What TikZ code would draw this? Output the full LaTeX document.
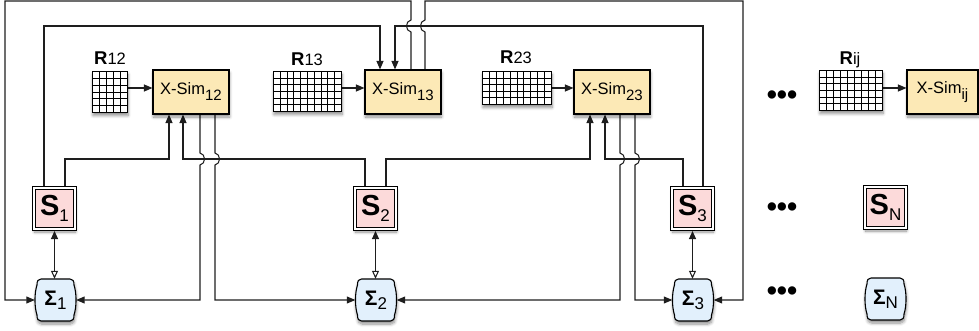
\documentclass[tikz,border=0pt]{standalone}
\usepackage{fontspec}
\setmainfont{Liberation Sans}
\usetikzlibrary{arrows.meta,shadows.blur,backgrounds}

\definecolor{xsimfill}{RGB}{252,233,182}
\definecolor{sfill}{RGB}{252,218,218}
\definecolor{sigfill}{RGB}{226,240,252}
\definecolor{linec}{RGB}{30,30,30}

\newcommand{\dsub}[2]{\raisebox{-#1}{\fontsize{15}{15}\selectfont #2}}
\newcommand{\xsimlabel}[1]{\fontsize{16.5}{16.5}\selectfont X-Sim\dsub{6pt}{#1}}
\newcommand{\slabel}[1]{{\fontsize{29}{29}\selectfont\bfseries S}\raisebox{-6pt}{\fontsize{17}{17}\selectfont #1}}
\newcommand{\siglabel}[1]{{\fontsize{21}{21}\selectfont\bfseries Σ}\raisebox{-4pt}{\fontsize{17}{17}\selectfont #1}}
\newcommand{\rlabel}[1]{\fontsize{18.5}{18.5}\selectfont\textbf{R}{\fontsize{16.5}{16.5}\selectfont #1}}

% grid: name, left, top, width, height, cols, rows  (lines snapped to pixel centres)
\newcommand{\gridbox}[7]{%
  \node[gridnode, anchor=north west, minimum width=#4pt, minimum height=#5pt] (#1) at ({#2+0.5},{#3+0.5}) {};
  \pgfmathtruncatemacro\gnc{#6-1}%
  \pgfmathtruncatemacro\gnr{#7-1}%
  \foreach \gi in {1,...,\gnc} {%
    \pgfmathsetmacro\gx{round(#2+\gi*#4/#6)+0.5}%
    \draw[gridline] (\gx,{#3+0.5}) -- (\gx,{#3+#5+0.5});}
  \foreach \gj in {1,...,\gnr} {%
    \pgfmathsetmacro\gy{round(#3+\gj*#5/#7)+0.5}%
    \draw[gridline] ({#2+0.5},\gy) -- ({#2+#4+0.5},\gy);}
}

% sigma node: name, center x, center y, label
\newcommand{\signode}[4]{%
  \begin{scope}[shift={(#2,#3)}]
    \path[sigshape] (-14.5,-21) -- (14.5,-21)
      .. controls (17.5,-21) and (18.5,-19) .. (18.5,-15)
      .. controls (21.2,-7) and (21.2,7) .. (18.5,15)
      .. controls (18.5,19) and (17.5,21) .. (14.5,21)
      -- (-14.5,21)
      .. controls (-17.5,21) and (-18.5,19) .. (-18.5,15)
      .. controls (-21.2,7) and (-21.2,-7) .. (-18.5,-15)
      .. controls (-18.5,-19) and (-17.5,-21) .. (-14.5,-21) -- cycle;
  \end{scope}
  \node[sigtext] (#1) at (#2,#3) {#4};
}

\begin{document}
\begin{tikzpicture}[x=1pt,y=-1pt,
  shade/.style={blur shadow={shadow xshift=0.5pt,shadow yshift=-3pt,shadow blur steps=6,shadow opacity=45,shadow blur radius=3pt}},
  xsim/.style={draw=black,line width=1.1pt,fill=xsimfill,minimum width=76pt,minimum height=44pt,inner sep=0pt,shade},
  sbox/.style={draw=black,line width=1.1pt,double=white,double distance=2pt,fill=sfill,minimum width=41pt,minimum height=41pt,inner sep=0pt,outer sep=2pt,shade},
  sigshape/.style={draw=black,line width=1.1pt,fill=sigfill,shade},
  sigtext/.style={minimum width=41pt,minimum height=42pt,inner sep=0pt},
  gridnode/.style={draw=black,line width=1.2pt,fill=white,inner sep=0pt,outer sep=0pt,shade},
  gridline/.style={draw=black,line width=1.2pt},
  rlab/.style={anchor=base,inner sep=0pt},
  dotsn/.style={font=\fontsize{29}{29}\selectfont\bfseries,inner sep=0pt},
  conn/.style={draw=linec,line width=1.05pt},
  arr/.style={conn,-{Triangle[length=8.5pt,width=7pt]}},
]
\useasboundingbox (0,0) rectangle (979,331);

% grids
\gridbox{R12}{92}{71}{35}{41}{5}{6}
\gridbox{R13}{273}{71}{68}{40}{10}{6}
\gridbox{R23}{482}{71}{69}{33}{10}{5}
\gridbox{Rij}{819}{70}{63}{40}{9}{6}

\node[rlab] (lR12) at (110,65) {\rlabel{12}};
\node[rlab] (lR13) at (307,66) {\rlabel{13}};
\node[rlab] (lR23) at (516,64) {\rlabel{23}};
\node[rlab] (lRij) at (850,65) {\rlabel{ij}};

% X-Sim boxes
\node[xsim] (XS12) at (191,92) {\xsimlabel{12}};
\node[xsim] (XS13) at (403,92) {\xsimlabel{13}};
\node[xsim] (XS23) at (612,92) {\xsimlabel{23}};
\node[xsim,minimum width=71pt] (XSij) at (942.5,92) {\xsimlabel{ij}};

% S boxes
\node[sbox] (S1) at (54.5,208.5) {\slabel{1}};
\node[sbox] (S2) at (375.5,208.5) {\slabel{2}};
\node[sbox] (S3) at (692.5,208.5) {\slabel{3}};
\node[sbox] (SN) at (885.5,207.5) {\slabel{N}};

% Sigma nodes
\signode{sig1}{55.5}{300}{\siglabel{1}}
\signode{sig2}{376}{300}{\siglabel{2}}
\signode{sig3}{693}{300}{\siglabel{3}}
\signode{sigN}{885.5}{299}{\siglabel{N}}

% dots
\node[dotsn] (d1) at (782,98) {•••};
\node[dotsn] (d2) at (782,210) {•••};
\node[dotsn] (d3) at (782,294) {•••};

\begin{scope}[on background layer]
% R -> X-Sim
\draw[arr] (R12.east |- 0,88) -- (XS12.west |- 0,88);
\draw[arr] (R13.east |- 0,88) -- (XS13.west |- 0,88);
\draw[arr] (R23.east |- 0,88) -- (XS23.west |- 0,88);
\draw[arr] (Rij.east |- 0,88) -- (XSij.west |- 0,88);

% X-Sim13 outputs over the top
\draw[arr] (411,0 |- XS13.north) -- (411,32) .. controls (405,31) and (405,21) .. (411,20) -- (411,1) -- (5,1) -- (5,300) -- (sig1.west);
\draw[arr] (425,0 |- XS13.north) -- (425,32) .. controls (419,31) and (419,21) .. (425,20) -- (425,1) -- (743,1) -- (743,300) -- (sig3.east);

% inputs to X-Sim13
\draw[arr] (44,0 |- S1.north) -- (44,26) -- (380,26) -- (380,0 |- XS13.north);
\draw[arr] (703,0 |- S3.north) -- (703,26) -- (395,26) -- (395,0 |- XS13.north);

% inputs to X-Sim12 and X-Sim23
\draw[arr] (65,0 |- S1.north) -- (65,159) -- (169,159) -- (169,0 |- XS12.south);
\draw[arr] (365,0 |- S2.north) -- (365,159) -- (183,159) -- (183,0 |- XS12.south);
\draw[arr] (386,0 |- S2.north) -- (386,159) -- (590,159) -- (590,0 |- XS23.south);
\draw[arr] (683,0 |- S3.north) -- (683,159) -- (605,159) -- (605,0 |- XS23.south);

% outputs of X-Sim12 and X-Sim23
\draw[arr] (200,0 |- XS12.south) -- (200,153) .. controls (206,154) and (206,164) .. (200,165) -- (200,300) -- (sig1.east);
\draw[arr] (215,0 |- XS12.south) -- (215,153) .. controls (221,154) and (221,164) .. (215,165) -- (215,300) -- (sig2.west);
\draw[arr] (620,0 |- XS23.south) -- (620,153) .. controls (626,154) and (626,164) .. (620,165) -- (620,300) -- (sig2.east);
\draw[arr] (635,0 |- XS23.south) -- (635,153) .. controls (641,154) and (641,164) .. (635,165) -- (635,300) -- (sig3.west);

% S <-> Sigma
\draw[conn,{Triangle[length=8pt,width=7pt]}-{Triangle[open,length=8pt,width=7pt,fill=white]}] (S1.south) -- (S1.south |- sig1.north);
\draw[conn,{Triangle[length=8pt,width=7pt]}-{Triangle[open,length=8pt,width=7pt,fill=white]}] (S2.south) -- (S2.south |- sig2.north);
\draw[conn,{Triangle[length=8pt,width=7pt]}-{Triangle[open,length=8pt,width=7pt,fill=white]}] (S3.south) -- (S3.south |- sig3.north);
\end{scope}
\end{tikzpicture}
\end{document}
